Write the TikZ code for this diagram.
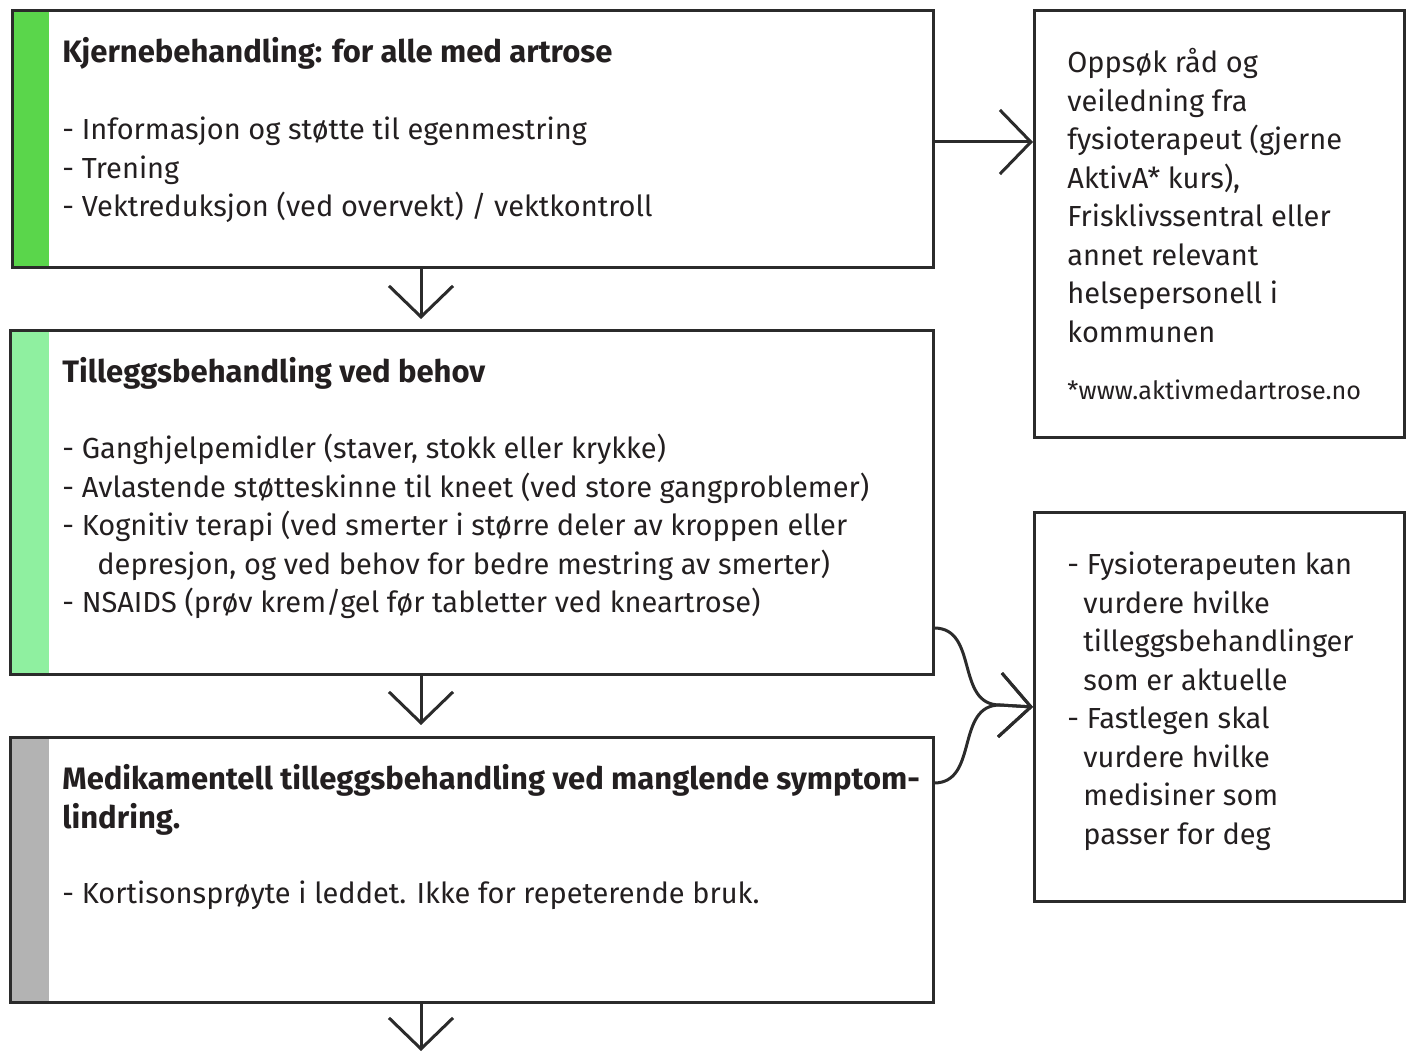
\documentclass[tikz,border=0pt]{standalone}
\usepackage{fontspec}
\setmainfont{Fira Sans}
\usetikzlibrary{arrows.meta}

\definecolor{linegray}{HTML}{2B2B2B}
\definecolor{textgray}{HTML}{231F20}
\definecolor{kjerne}{HTML}{5AD64B}
\definecolor{tillegg}{HTML}{8FF0A0}
\definecolor{medik}{HTML}{B3B3B3}

\newcommand{\lines}[1]{\begin{tabular}[t]{@{}l@{}}#1\end{tabular}}

\tikzset{
  box/.style={draw=linegray, line width=1.5pt, anchor=north west, inner sep=0pt},
  bar/.style={anchor=north west, inner sep=0pt, minimum width=19pt},
  txt/.style={anchor=base west, inner sep=0pt, text=textgray,
    font=\fontsize{14.5}{19.25}\selectfont},
  head/.style={txt, font=\fontsize{15.5}{19.5}\bfseries},
  small/.style={txt, font=\fontsize{12.6}{15}\selectfont},
  arr/.style={line width=1.5pt, draw=linegray, -{Straight Barb[length=15.5pt,width=32pt]}}
}

\begin{document}
\begin{tikzpicture}[x=0.5pt,y=-0.5pt]
  \useasboundingbox (0,0) rectangle (1408,1052);

  % left column
  \node[bar, fill=kjerne, minimum height=128.5pt] (k1bar) at (11,9) {};
  \node[box, minimum width=460.5pt, minimum height=128.5pt] (k1) at (11,9) {};
  \node[bar, fill=tillegg, minimum width=20pt, minimum height=172pt] (k2bar) at (9,329) {};
  \node[box, minimum width=461.5pt, minimum height=172pt] (k2) at (9,329) {};
  \node[bar, fill=medik, minimum width=20pt, minimum height=132.5pt] (k3bar) at (9,736) {};
  \node[box, minimum width=461.5pt, minimum height=132.5pt] (k3) at (9,736) {};

  \node[head] (k1title) at (62,63) {Kjernebehandling: for alle med artrose};
  \node[txt] (k1list) at (62,140) {\lines{- Informasjon og støtte til egenmestring\\
    - Trening\\
    - Vektreduksjon (ved overvekt) / vektkontroll}};

  \node[head] (k2title) at (62,383) {Tilleggsbehandling ved behov};
  \node[txt] (k2list) at (62,459) {\lines{- Ganghjelpemidler (staver, stokk eller krykke)\\
    - Avlastende støtteskinne til kneet (ved store gangproblemer)\\
    - Kognitiv terapi (ved smerter i større deler av kroppen eller\\
    \hspace*{17.5pt}depresjon, og ved behov for bedre mestring av smerter)\\
    - NSAIDS (prøv krem/gel før tabletter ved kneartrose)}};

  \node[head] (k3title) at (62,790) {\lines{Medikamentell tilleggsbehandling ved manglende symptom-\\lindring.}};
  \node[txt] (k3list) at (62,903) {- Kortisonsprøyte i leddet. Ikke for repeterende bruk.};

  % right column
  \node[box, minimum width=185pt, minimum height=213.5pt] (r1) at (1033,9) {};
  \node[txt] (r1text) at (1067,73) {\lines{Oppsøk råd og\\
    veiledning fra\\
    fysioterapeut (gjerne\\
    AktivA* kurs),\\
    Frisklivssentral eller\\
    annet relevant\\
    helsepersonell i\\
    kommunen}};
  \node[small] (r1web) at (1067,400) {*www.aktivmedartrose.no};

  \node[box, minimum width=185pt, minimum height=194.5pt] (r2) at (1033,511) {};
  \node[txt] (r2text) at (1067,575) {\lines{- Fysioterapeuten kan\\
    \hspace*{8pt}vurdere hvilke\\
    \hspace*{8pt}tilleggsbehandlinger\\
    \hspace*{8pt}som er aktuelle\\
    - Fastlegen skal\\
    \hspace*{8pt}vurdere hvilke\\
    \hspace*{8pt}medisiner som\\
    \hspace*{8pt}passer for deg}};

  % connectors
  \coordinate (xdown) at (421,0);
  \coordinate (c2) at (934,628);
  \coordinate (c3) at (934,783);
  \coordinate (bend) at (1000,705);
  \coordinate (end) at (421,1051);

  \draw[arr] (k1.east |- 0,142) -- (r1.west |- 0,142);
  \draw[arr] (k1.south -| xdown) -- ++(0,50);
  \draw[arr] (k2.south -| xdown) -- ++(0,49);
  \draw[arr] (k3.south -| xdown) -- (end);
  \draw[arr] (c2) .. controls +(45,0) and +(-45,0) .. (bend) -- (r2.west);
  \draw[arr] (c3) .. controls +(45,0) and +(-45,0) .. (bend) -- (r2.west);
\end{tikzpicture}
\end{document}
